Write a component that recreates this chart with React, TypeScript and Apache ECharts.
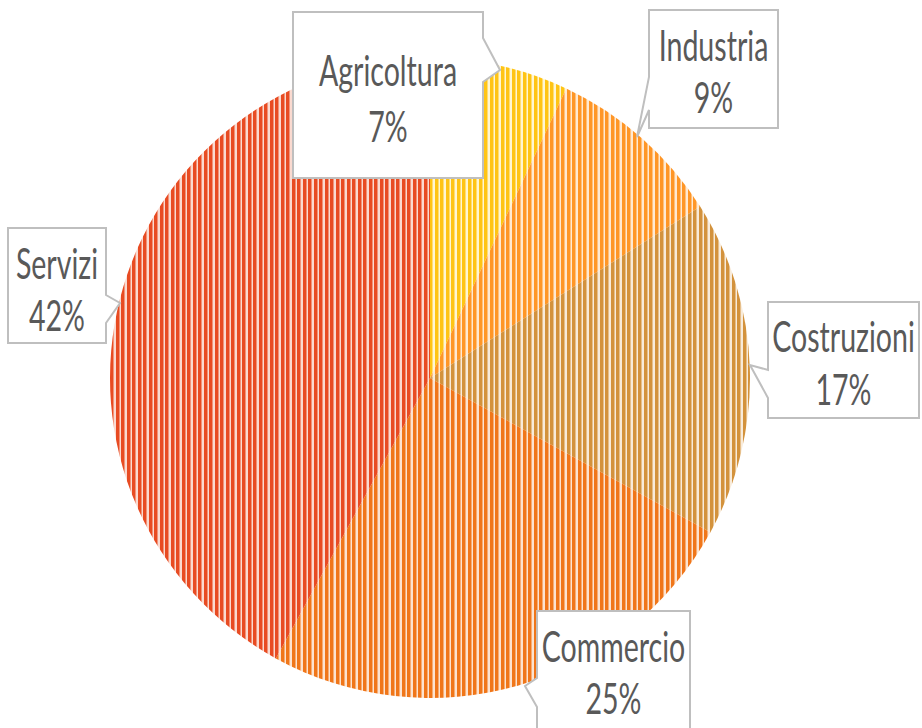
import React, { useEffect, useRef } from "react";
import * as echarts from "echarts";

const categories = ["Agricoltura", "Industria", "Costruzioni", "Commercio", "Servizi"];
const values = [7, 9, 17, 25, 42];
const darkColors = ["#FFC414", "#FF9626", "#D3923C", "#F07619", "#E84B22"];
const lightColors = ["#FFF6D2", "#FFE9D2", "#F8EBDA", "#FCE3D0", "#FADAD0"];

// callout layout: box bounds, wedge points (on edge, tip, on edge), text line centres
const callouts = [
  { x0: 293, y0: 12, x1: 483, y1: 178, side: "right", a: 38, tipX: 500, tipY: 70, b: 82, t1: 70, t2: 126 },
  { x0: 649, y0: 10, x1: 778, y1: 128, side: "left", a: 77, tipX: 637, tipY: 137, b: 110, t1: 45, t2: 97 },
  { x0: 768, y0: 302, x1: 919, y1: 418, side: "left", a: 370, tipX: 750, tipY: 365, b: 398, t1: 336, t2: 389 },
  { x0: 537, y0: 611, x1: 690, y1: 740, side: "left", a: 678, tipX: 525, tipY: 686, b: 707, t1: 646, t2: 698 },
  { x0: 8, y0: 228, x1: 106, y1: 343, side: "right", a: 295, tipX: 120, tipY: 303, b: 323, t1: 263, t2: 315 },
];

function mix(a: string, b: string) {
  const pa = [1, 3, 5].map((i) => parseInt(a.slice(i, i + 2), 16));
  const pb = [1, 3, 5].map((i) => parseInt(b.slice(i, i + 2), 16));
  const m = pa.map((v, i) => Math.round((v + pb[i]) / 2));
  return "#" + m.map((v) => v.toString(16).padStart(2, "0")).join("");
}

function stripePattern(dark: string, light: string) {
  const c = document.createElement("canvas");
  c.width = 11;
  c.height = 4;
  const ctx = c.getContext("2d")!;
  const mid = mix(dark, light);
  const cols = [dark, dark, dark, mid, light, light, dark, dark, dark, mid, light];
  cols.forEach((col, i) => {
    ctx.fillStyle = col;
    ctx.fillRect(i, 0, 1, 4);
  });
  return { image: c, repeat: "repeat" as const };
}

function calloutPoints(c: any) {
  if (c.side === "right") {
    return [
      [c.x0, c.y0], [c.x1, c.y0], [c.x1, c.a], [c.tipX, c.tipY], [c.x1, c.b], [c.x1, c.y1], [c.x0, c.y1],
    ];
  }
  return [
    [c.x0, c.y0], [c.x1, c.y0], [c.x1, c.y1], [c.x0, c.y1], [c.x0, c.b], [c.tipX, c.tipY], [c.x0, c.a],
  ];
}

export default function App() {
  const ref = useRef<HTMLDivElement>(null);
  useEffect(() => {
    document.body.style.margin = "0";
    const chart = echarts.init(ref.current!, null, { renderer: "svg" });
    const total = values.reduce((s, v) => s + v, 0);
    const font = "42px Lato";
    const graphics: any[] = [];
    callouts.forEach((c, i) => {
      const cx = (c.x0 + c.x1) / 2;
      graphics.push({
        type: "polygon",
        z: 100,
        shape: { points: calloutPoints(c) },
        style: { fill: "#ffffff", stroke: "#BFBFBF", lineWidth: 2 },
      });
      graphics.push({
        type: "text",
        z: 101,
        x: cx,
        y: c.t1,
        scaleX: 0.68,
        style: { text: categories[i], font, fill: "#595959", align: "center", verticalAlign: "middle" },
      });
      graphics.push({
        type: "text",
        z: 101,
        x: cx,
        y: c.t2,
        scaleX: 0.68,
        style: {
          text: Math.round((values[i] / total) * 100) + "%",
          font,
          fill: "#595959",
          align: "center",
          verticalAlign: "middle",
        },
      });
    });
    chart.setOption({
      animation: false,
      backgroundColor: "#ffffff",
      graphic: graphics,
      series: [
        {
          type: "pie",
          center: [430, 378],
          radius: 320,
          startAngle: 90,
          clockwise: true,
          label: { show: false },
          labelLine: { show: false },
          itemStyle: { borderWidth: 0 },
          data: categories.map((name, i) => ({
            name,
            value: values[i],
            itemStyle: { color: stripePattern(darkColors[i], lightColors[i]) },
          })),
        },
      ],
    });
    return () => chart.dispose();
  }, []);
  return <div ref={ref} style={{ width: 922, height: 728 }} />;
}
